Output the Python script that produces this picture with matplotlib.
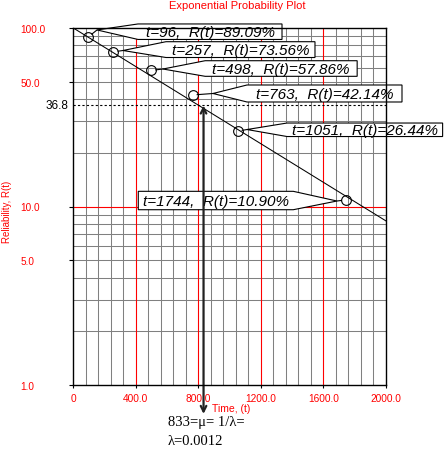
import matplotlib
matplotlib.use('Agg')
import matplotlib.pyplot as plt
import matplotlib.transforms as mtransforms
from matplotlib.patches import Polygon
from matplotlib.lines import Line2D
import math

# ---------------- data ----------------
times = [96, 257, 498, 763, 1051, 1744]
reliability = [89.09, 73.56, 57.86, 42.14, 26.44, 10.90]
point_labels = ["t=96,  R(t)=89.09%", "t=257,  R(t)=73.56%", "t=498,  R(t)=57.86%",
                "t=763,  R(t)=42.14%", "t=1051,  R(t)=26.44%", "t=1744,  R(t)=10.90%"]
fit_t = [0, 2000]
fit_R = [100.0, 8.3]
mean_life = 833
R_at_mean = 36.8
x_ticks = [0, 400, 800, 1200, 1600, 2000]
x_tick_labels = ['0', '400.0', '800.0', '1200.0', '1600.0', '2000.0']
y_ticks = [1, 5, 10, 50, 100]
y_tick_labels = ['1.0', '5.0', '10.0', '50.0', '100.0']
x_minor_grid = [v for v in range(80, 2000, 80) if v % 400 != 0]
x_major_grid = [400, 800, 1200, 1600]
y_minor_grid = [2, 3, 4, 5, 6, 7, 8, 9, 20, 30, 40, 50, 60, 70, 80, 90]
y_major_grid = [10]

# callout layout in pixel offsets from the point: tip dx, tip dy, near dx, far dx, top dy, bottom dy
callout_layout = [
    (8.7, 7.0, 49.7, 193.7, 13.0, -2.5),
    (9.5, 1.3, 52.5, 201.5, 10.1, -5.7),
    (11.8, 1.4, 54.0, 206.0, 9.7, -5.9),
    (20.4, 1.5, 54.4, 209.4, 10.0, -7.0),
    (9.4, 1.6, 49.4, 205.0, 8.1, -5.4),
    (-9.0, -1.2, -52.7, -207.7, 8.5, -9.9),
]

RED = '#ff0000'
GRAY = '#808080'

fig = plt.figure(figsize=(4.46, 4.52), dpi=100)
W, H = 446.0, 452.0
ax = fig.add_axes([73.3 / W, (H - 386) / H, (386 - 73.3) / W, (386 - 29) / H])
ax.set_yscale('log')
ax.set_xlim(0, 2000)
ax.set_ylim(1, 100)

# grid
for v in x_minor_grid:
    ax.axvline(v, color=GRAY, lw=0.75, zorder=0.5)
for v in x_major_grid:
    ax.axvline(v, color=RED, lw=0.8, zorder=0.6)
for v in y_minor_grid:
    ax.axhline(v, color=GRAY, lw=0.75, zorder=0.5)
for v in y_major_grid:
    ax.axhline(v, color=RED, lw=0.8, zorder=0.6)

# fitted line
ax.plot(fit_t, fit_R, color='black', lw=0.75, zorder=2)
# data points
ax.plot(times, reliability, 'o', mfc='none', mec='black', ms=7, mew=0.8, zorder=3)

# dashed line at R = 36.8
ax.axhline(R_at_mean, color='black', lw=0.8, ls=(0, (2, 2)), zorder=2.5)

# callouts
px = fig.dpi / 100.0
for t, r, lab, lay in zip(times, reliability, point_labels, callout_layout):
    tdx, tdy, near, far, top, bot = lay
    tr = mtransforms.Affine2D().scale(px) + mtransforms.ScaledTranslation(t, r, ax.transData)
    poly = Polygon([(tdx, tdy), (near, top), (far, top), (far, bot), (near, bot)], closed=True,
                   facecolor='white', edgecolor='black', lw=0.8, transform=tr, zorder=4,
                   clip_on=False)
    ax.add_patch(poly)
    d = math.hypot(tdx, tdy)
    rad = 4.6
    ax.add_line(Line2D([tdx * rad / d, tdx], [tdy * rad / d, tdy], color='black', lw=0.8,
                       transform=tr, zorder=4, clip_on=False))
    ax.text((near + far) / 2.0, (top + bot) / 2.0 - 0.5, lab, transform=tr, ha='center',
            va='center', fontsize=11, style='italic', family='Liberation Sans',
            zorder=5, clip_on=False)

# mean-life arrow
blend = mtransforms.blended_transform_factory(ax.transData, ax.transAxes)
ax.annotate('', xy=(mean_life, -0.081), xycoords=blend,
            xytext=(mean_life, R_at_mean), textcoords='data',
            arrowprops=dict(arrowstyle='<->,head_length=0.4,head_width=0.2',
                            color='#222222', lw=1.6, shrinkA=0, shrinkB=0),
            zorder=6, annotation_clip=False)

# ticks
ax.set_xticks(x_ticks)
ax.set_xticklabels(x_tick_labels, color=RED, fontsize=7.3, family='Liberation Sans')
ax.set_yticks(y_ticks)
ax.set_yticklabels(y_tick_labels, color=RED, fontsize=7.2, family='Liberation Sans')
ax.yaxis.set_minor_locator(matplotlib.ticker.NullLocator())
ax.tick_params(axis='y', length=3, width=0.8, pad=35.2)
ax.tick_params(axis='x', length=2.5, width=0.8, pad=3)
for lbl in ax.get_yticklabels():
    lbl.set_horizontalalignment('left')
for tk, v in zip(ax.yaxis.get_major_ticks(), y_ticks):
    if v in y_major_grid:
        tk.tick1line.set_color(RED)

ax.text(-0.017, R_at_mean, '36.8', transform=mtransforms.blended_transform_factory(ax.transAxes, ax.transData),
        ha='right', va='center', fontsize=8.5, family='Liberation Sans', color='black')

for s in ax.spines.values():
    s.set_linewidth(1.0)
    s.set_zorder(7)

fig.text(237 / W, 1 - 6 / H, 'Exponential Probability Plot', color=RED, fontsize=8,
         family='Liberation Sans', ha='center', va='center')
fig.text(7.5 / W, 1 - 212 / H, 'Reliability, R(t)', color=RED, fontsize=7,
         family='Liberation Sans', ha='center', va='center', rotation=90)
fig.text(231.5 / W, 1 - 409 / H, 'Time, (t)', color=RED, fontsize=7.5,
         family='Liberation Sans', ha='center', va='center')
fig.text(168 / W, 1 - 423 / H, '833=\u03bc= 1/\u03bb=', color='black', fontsize=10.5,
         family='Liberation Serif', ha='left', va='center')
fig.text(168 / W, 1 - 442 / H, '\u03bb=0.0012', color='black', fontsize=10.5,
         family='Liberation Serif', ha='left', va='center')

fig.savefig('out.png', dpi=100)
